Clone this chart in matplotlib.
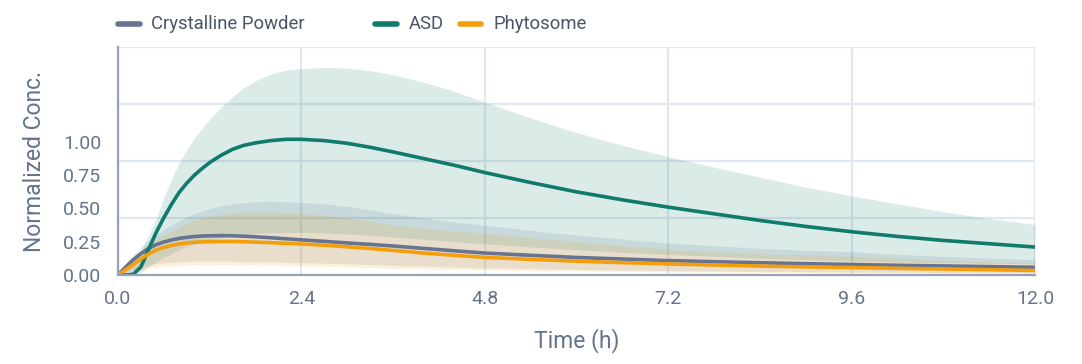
import numpy as np
import matplotlib
matplotlib.use("Agg")
import matplotlib.pyplot as plt
from matplotlib.lines import Line2D

plt.rcParams['font.family'] = ['Roboto', 'DejaVu Sans']

# time points (h)
t = [0, 0.1, 0.2, 0.3, 0.4, 0.5, 0.6, 0.7, 0.8, 0.9,
     1.0, 1.1, 1.2, 1.35, 1.5, 1.65, 1.8, 2.0, 2.2, 2.4,
     2.7, 3.0, 3.3, 3.6, 4.0, 4.4, 4.8, 5.4, 6.0, 6.6,
     7.2, 7.8, 8.4, 9.0, 9.6, 10.2, 10.8, 11.4, 12.0]

# Crystalline Powder
cp_mean = [0, 0.06, 0.115, 0.16, 0.2, 0.228, 0.248, 0.263, 0.275, 0.283,
           0.289, 0.293, 0.295, 0.296, 0.295, 0.291, 0.287, 0.28, 0.272, 0.264,
           0.253, 0.241, 0.23, 0.218, 0.2, 0.182, 0.165, 0.148, 0.132, 0.12,
           0.108, 0.1, 0.092, 0.085, 0.079, 0.073, 0.068, 0.063, 0.058]
cp_upper = [0, 0.08, 0.15, 0.21, 0.26, 0.305, 0.34, 0.375, 0.41, 0.435,
            0.46, 0.48, 0.5, 0.52, 0.535, 0.545, 0.55, 0.552, 0.55, 0.545,
            0.535, 0.515, 0.49, 0.46, 0.43, 0.4, 0.375, 0.335, 0.3, 0.27,
            0.24, 0.22, 0.2, 0.185, 0.175, 0.155, 0.14, 0.127, 0.115]
cp_lower = [0, 0.02, 0.04, 0.06, 0.075, 0.085, 0.09, 0.095, 0.1, 0.102,
            0.104, 0.105, 0.105, 0.105, 0.104, 0.102, 0.1, 0.098, 0.095, 0.093,
            0.089, 0.084, 0.078, 0.072, 0.066, 0.06, 0.054, 0.048, 0.042, 0.037,
            0.033, 0.03, 0.027, 0.025, 0.023, 0.021, 0.02, 0.019, 0.018]

# ASD
asd_mean = [0, 0, 0.005, 0.06, 0.19, 0.32, 0.43, 0.53, 0.62, 0.69,
            0.75, 0.8, 0.845, 0.9, 0.945, 0.975, 0.993, 1.01, 1.02, 1.02,
            1.01, 0.99, 0.96, 0.925, 0.875, 0.825, 0.77, 0.695, 0.625, 0.565,
            0.51, 0.46, 0.41, 0.365, 0.325, 0.29, 0.26, 0.235, 0.21]
asd_upper = [0, 0.03, 0.09, 0.18, 0.3, 0.42, 0.58, 0.72, 0.84, 0.94,
             1.03, 1.1, 1.17, 1.26, 1.34, 1.41, 1.46, 1.51, 1.54, 1.55,
             1.56, 1.555, 1.535, 1.505, 1.45, 1.38, 1.3, 1.18, 1.07, 0.975,
             0.89, 0.81, 0.735, 0.66, 0.595, 0.535, 0.475, 0.425, 0.38]
asd_lower = [0, 0, 0, 0.02, 0.06, 0.1, 0.13, 0.16, 0.19, 0.215,
             0.235, 0.25, 0.265, 0.28, 0.295, 0.305, 0.312, 0.318, 0.32, 0.32,
             0.315, 0.308, 0.298, 0.285, 0.268, 0.25, 0.235, 0.21, 0.19, 0.17,
             0.155, 0.14, 0.125, 0.115, 0.105, 0.098, 0.092, 0.088, 0.085]

# Phytosome
ph_mean = [0, 0.04, 0.08, 0.12, 0.158, 0.187, 0.207, 0.222, 0.233, 0.241,
           0.246, 0.249, 0.251, 0.252, 0.252, 0.25, 0.247, 0.243, 0.238, 0.233,
           0.224, 0.212, 0.199, 0.185, 0.165, 0.148, 0.133, 0.117, 0.104, 0.093,
           0.083, 0.075, 0.067, 0.061, 0.056, 0.05, 0.045, 0.04, 0.034]
ph_upper = [0, 0.06, 0.12, 0.17, 0.22, 0.26, 0.3, 0.33, 0.36, 0.385,
            0.41, 0.425, 0.44, 0.455, 0.465, 0.47, 0.472, 0.472, 0.468, 0.462,
            0.448, 0.43, 0.405, 0.375, 0.35, 0.33, 0.315, 0.28, 0.25, 0.22,
            0.19, 0.175, 0.16, 0.15, 0.14, 0.125, 0.11, 0.1, 0.09]
ph_lower = [0, 0.015, 0.03, 0.04, 0.052, 0.06, 0.065, 0.069, 0.072, 0.074,
            0.076, 0.077, 0.078, 0.078, 0.078, 0.077, 0.076, 0.074, 0.072, 0.07,
            0.066, 0.062, 0.056, 0.05, 0.046, 0.042, 0.039, 0.034, 0.03, 0.027,
            0.024, 0.022, 0.02, 0.018, 0.016, 0.015, 0.014, 0.013, 0.012]

labels = ['Crystalline Powder', 'ASD', 'Phytosome']
colors = ['#667391', '#107a6b', '#f59e0b']

yticks = [0, 0.25, 0.5, 0.75, 1.0]
xticks = [0, 2.4, 4.8, 7.2, 9.6, 12.0]
ymax = 1.714

fig = plt.figure(figsize=(10.82, 3.64), dpi=100)
ax = fig.add_axes([0.109, 0.2445, 0.8476, 0.6265])

series = [(cp_mean, cp_lower, cp_upper), (asd_mean, asd_lower, asd_upper), (ph_mean, ph_lower, ph_upper)]
for (m, lo, hi), c in zip(series, colors):
    ax.fill_between(t, lo, hi, color=c, alpha=0.15, linewidth=0, zorder=2)
for (m, lo, hi), c in zip(series, colors):
    ax.plot(t, m, color=c, lw=2.6, solid_capstyle='round', solid_joinstyle='round', zorder=3)

ax.set_xlim(0, 12)
ax.set_ylim(0, ymax)
ax.set_xticks(xticks)
ax.set_xticklabels([f'{v:.1f}' for v in xticks])
ax.set_yticks(yticks)
ax.set_yticklabels([f'{v:.2f}' for v in yticks])
ax.set_yticks(np.linspace(0, ymax, 5), minor=True)
ax.tick_params(axis='both', which='both', length=0, labelsize=14, colors='#64748b')
ax.tick_params(axis='x', pad=11)
ax.tick_params(axis='y', pad=12)
ax.grid(which='minor', axis='y', color='#e2e8f0', lw=1.6, zorder=0)
ax.grid(which='major', axis='x', color='#e2e8f0', lw=1.6, zorder=0)
ax.set_axisbelow(True)

for s in ['top', 'right']:
    ax.spines[s].set_visible(False)
for s in ['left', 'bottom']:
    ax.spines[s].set_color('#94a3b8')
    ax.spines[s].set_linewidth(1.6)
    ax.spines[s].set_zorder(4)

ax.set_xlabel('Time (h)', fontsize=16.5, color='#64748b', labelpad=14)
ax.set_ylabel('Normalized Conc.', fontsize=16.5, color='#64748b', labelpad=12)

# legend across the top
leg_x = [0.109, 0.347, 0.425]
for x0, lab, c in zip(leg_x, labels, colors):
    fig.add_artist(Line2D([x0, x0 + 0.02], [0.934, 0.934], transform=fig.transFigure,
                          color=c, lw=4, solid_capstyle='round'))
    fig.text(x0 + 0.031, 0.934, lab, fontsize=13.3, color='#475569', va='center', ha='left')

fig.savefig('out.png', dpi=100)
